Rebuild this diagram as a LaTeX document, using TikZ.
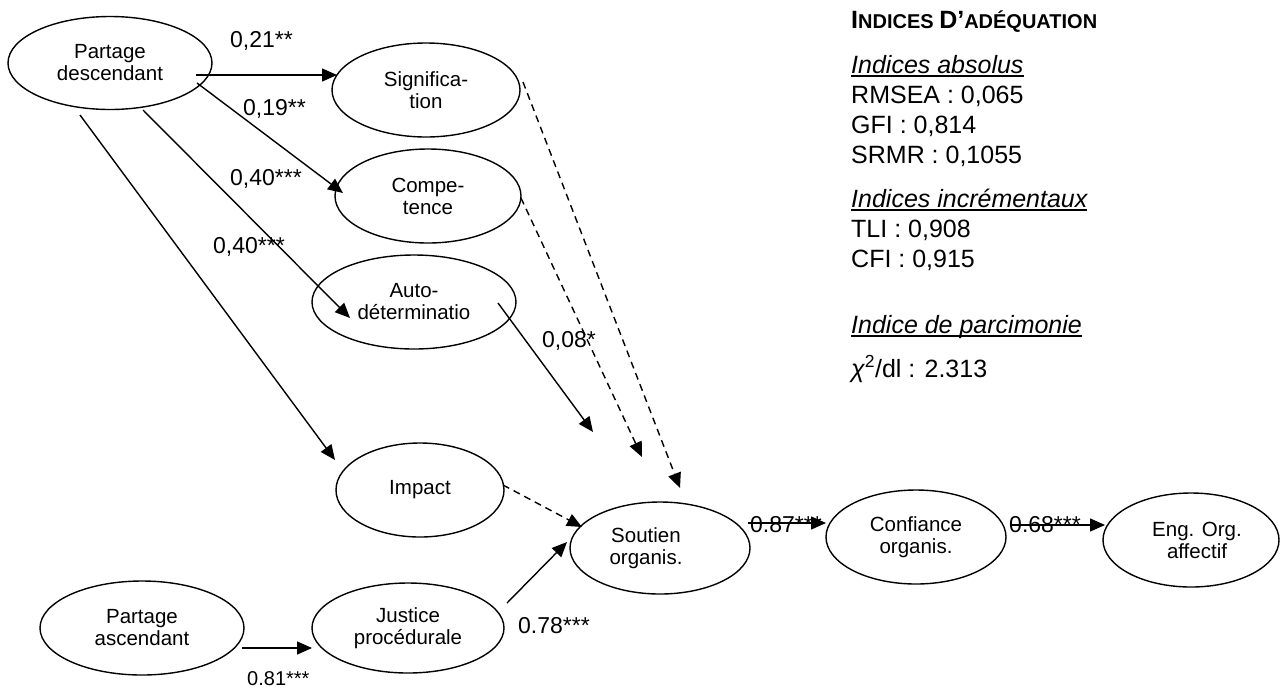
\documentclass[tikz,border=0pt]{standalone}
\usepackage{fontspec}
\setmainfont{Liberation Sans}
\usetikzlibrary{arrows.meta,shapes.geometric}
\newcommand\myul[1]{{\setbox0\hbox{#1}\rlap{\rule[-3.5pt]{\wd0}{1.6pt}}\box0}}
\tikzset{
 lv/.style={draw, ellipse, line width=1.4pt, inner sep=0pt, font=\fontsize{20.5}{22}\selectfont, align=center},
 arr/.style={line width=1.4pt, -{Triangle[length=15pt,width=13pt]}},
 dsh/.style={arr, dash pattern=on 7pt off 5pt},
 coef/.style={font=\fontsize{23}{25}\selectfont, anchor=base west, inner sep=0pt},
 idx/.style={font=\fontsize{25}{27}\selectfont, anchor=base west, inner sep=0pt},
}
\begin{document}
\begin{tikzpicture}[x=1pt,y=-1pt]
\useasboundingbox (0,0) rectangle (1282,689);
% latent variables
\node[lv, minimum width=204pt, minimum height=93pt] (pd) at (110,63) {Partage\\descendant};
\node[lv, minimum width=188pt, minimum height=94pt] (sig) at (426,90) {Significa-\\tion};
\node[lv, minimum width=186pt, minimum height=94pt] (comp) at (428,196) {Compe-\\tence};
\node[lv, minimum width=204pt, minimum height=94pt] (auto) at (414,302) {Auto-\\déterminatio};
\node[lv, minimum width=168pt, minimum height=94pt] (imp) at (420,490) {Impact};
\node[lv, minimum width=180pt, minimum height=92pt] (so) at (660,548) {};
\node[font=\fontsize{20.5}{22}\selectfont, align=center, inner sep=0pt] (sotxt) at (646,548) {Soutien\\organis.};
\node[lv, minimum width=180pt, minimum height=94pt] (conf) at (916,537) {Confiance\\organis.};
\node[lv, minimum width=176pt, minimum height=94pt] (eng) at (1191,540) {\hspace*{12pt}Eng. Org.\\\hspace*{12pt}affectif};
\node[lv, minimum width=204pt, minimum height=94pt] (pa) at (142,628) {Partage\\ascendant};
\node[lv, minimum width=192pt, minimum height=90pt] (jp) at (408,628) {Justice\\procédurale};
% paths
\draw[arr] ([shift={(86,12)}]pd.center) -- ([shift={(-89,-15)}]sig.center);
\draw[arr] ([shift={(87,20)}]pd.center) -- ([shift={(-85,-3)}]comp.center);
\draw[arr] ([shift={(33,47)}]pd.center) -- ([shift={(-64,16)}]auto.center);
\draw[arr] ([shift={(-30,52)}]pd.center) -- ([shift={(-85,-30)}]imp.center);
\draw[arr] ([shift={(84,1)}]auto.center) -- ([shift={(-67,-116)}]so.center);
\draw[dsh] ([shift={(93,2)}]comp.center) -- ([shift={(-18,-91)}]so.center);
\draw[dsh] ([shift={(97,-8)}]sig.center) -- ([shift={(20,-60)}]so.center);
\draw[dsh] ([shift={(83,-5)}]imp.center) -- ([shift={(-78,-21)}]so.center);
\draw[arr] ([shift={(99,-25)}]jp.center) -- ([shift={(-93,-6)}]so.center);
\draw[arr] ([shift={(100,20)}]pa.center) -- ([shift={(-96,20)}]jp.center);
\draw[arr] ([shift={(88,-25)}]so.center) -- ([shift={(-90,-14)}]conf.center);
\draw[arr] ([shift={(94,-12)}]conf.center) -- ([shift={(-86,-15)}]eng.center);
% coefficients
\node[coef] (c1) at (230,47) {0,21**};
\node[coef] (c2) at (243,115) {0,19**};
\node[coef] (c3) at (230,185) {0,40***};
\node[coef] (c4) at (213,253) {0,40***};
\node[coef] (c5) at (542,347) {0,08*};
\node[coef] (c6) at (518,633) {0.78***};
\node[coef, font=\fontsize{20}{22}\selectfont] (c7) at (247,685) {0.81***};
\node[coef] (c8) at (750,532) {0.87***};
\node[coef] (c9) at (1009,532) {0.68***};
% fit indices
\node[anchor=base west, inner sep=0pt, font=\bfseries] (t0) at (851,28) {\fontsize{25}{27}\selectfont I\fontsize{20}{22}\selectfont NDICES \fontsize{25}{27}\selectfont D’\fontsize{20}{22}\selectfont ADÉQUATION};
\node[idx] (t1) at (851,73) {\myul{\itshape Indices absolus}};
\node[idx] (t2) at (851,103) {RMSEA : 0,065};
\node[idx] (t3) at (851,133) {GFI : 0,814};
\node[idx] (t4) at (851,163) {SRMR : 0,1055};
\node[idx] (t5) at (851,207) {\myul{\itshape Indices incrémentaux}};
\node[idx] (t6) at (851,237) {TLI : 0,908};
\node[idx] (t7) at (851,267) {CFI : 0,915};
\node[idx] (t8) at (851,333) {\myul{\itshape Indice de parcimonie}};
\node[idx] (t9) at (851,377) {{\itshape χ}\textsuperscript{2}/dl : 2.313};
\end{tikzpicture}
\end{document}
